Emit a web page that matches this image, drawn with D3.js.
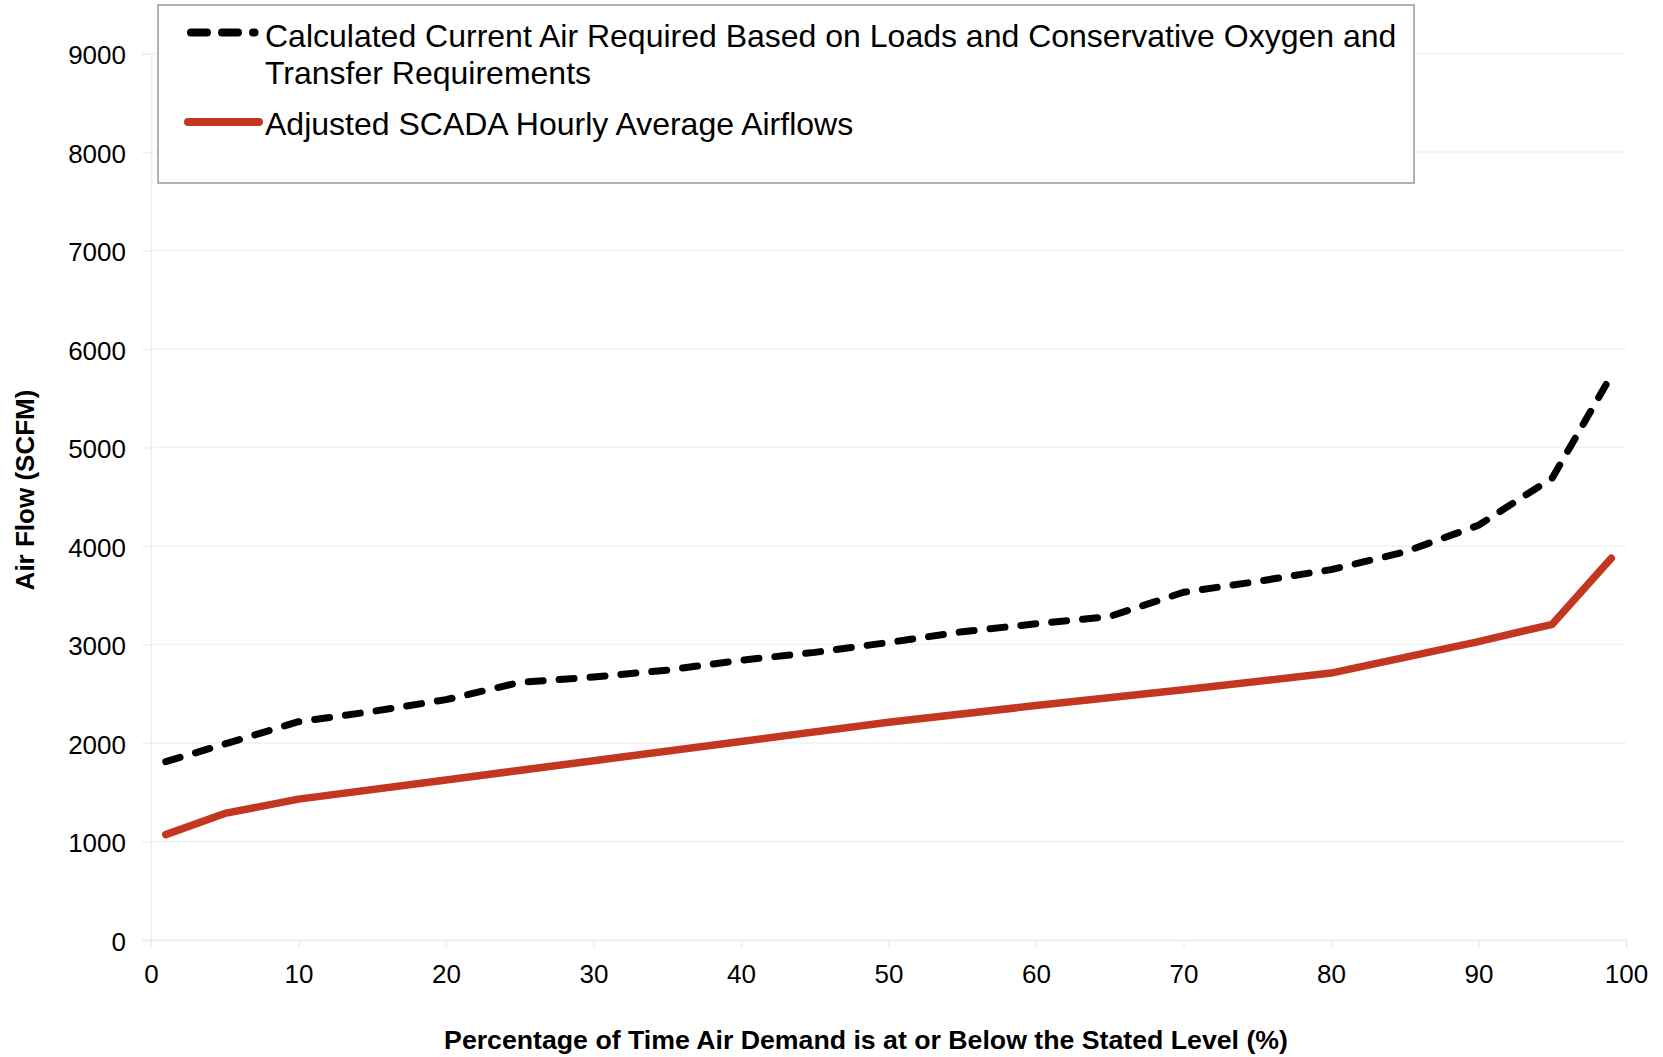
<!DOCTYPE html>
<html>
<head>
<meta charset="utf-8">
<script src="https://cdn.jsdelivr.net/npm/d3@7"></script>
<style>
  html, body { margin: 0; padding: 0; background: #fff; }
  svg { display: block; font-family: "Liberation Sans", Arial, sans-serif; }
</style>
</head>
<body>
<svg id="chart" width="1663" height="1057"></svg>
<script>
// ---- data ----
const calcPct = [1, 5, 10, 15, 20, 25, 30, 35, 40, 45, 50, 55, 60, 65, 70, 75, 80, 85, 90, 95, 99];
const calcAir = [1810, 1990, 2216, 2320, 2440, 2615, 2670, 2740, 2840, 2920, 3020, 3130, 3210, 3285, 3530, 3640, 3760, 3940, 4210, 4690, 5730];
const scadaPct = [1, 5, 10, 20, 30, 40, 50, 60, 70, 80, 90, 95, 99];
const scadaAir = [1070, 1285, 1430, 1625, 1820, 2015, 2210, 2380, 2540, 2710, 3030, 3205, 3875];
const xTicks = [0, 10, 20, 30, 40, 50, 60, 70, 80, 90, 100];
const yTicks = [0, 1000, 2000, 3000, 4000, 5000, 6000, 7000, 8000, 9000];
const seriesNames = [
  ["Calculated Current Air Required Based on Loads and Conservative Oxygen and", "Transfer Requirements"],
  ["Adjusted SCADA Hourly Average Airflows"]
];
const xTitle = "Percentage of Time Air Demand is at or Below the Stated Level (%)";
const yTitle = "Air Flow (SCFM)";

// ---- layout ----
const svg = d3.select("#chart");
const x = d3.scaleLinear().domain([0, 100]).range([151, 1626]);
const y = d3.scaleLinear().domain([0, 9000]).range([940, 53.5]);
const RED = "#c3361f";

// gridlines
svg.append("g").selectAll("line").data(yTicks).join("line")
  .attr("x1", x(0)).attr("x2", x(100))
  .attr("y1", d => y(d)).attr("y2", d => y(d))
  .attr("stroke", "#f1f1f1").attr("stroke-width", 1.5);

// axes
const yAxis = svg.append("g").attr("transform", `translate(${x(0)},0)`)
  .call(d3.axisLeft(y).tickValues(yTicks).tickSize(9).tickPadding(16).tickFormat(d3.format("d")));
const xAxis = svg.append("g").attr("transform", `translate(0,${y(0)})`)
  .call(d3.axisBottom(x).tickValues(xTicks).tickSize(8).tickPadding(17).tickFormat(d3.format("d")));
[yAxis, xAxis].forEach(a => {
  a.select(".domain").attr("stroke", "#eeeeee").attr("stroke-width", 1.5);
  a.selectAll(".tick line").attr("stroke", "#eeeeee").attr("stroke-width", 1.5);
  a.selectAll(".tick text").attr("fill", "#000").style("font-size", "26px")
    .style("font-family", "'Liberation Sans', Arial, sans-serif");
});
yAxis.selectAll(".tick text").attr("dy", "0.4em");

// lines
const line = d3.line().x(d => x(d[0])).y(d => y(d[1]));
svg.append("path")
  .datum(scadaPct.map((p, i) => [p, scadaAir[i]]))
  .attr("d", line).attr("fill", "none").attr("stroke", RED)
  .attr("stroke-width", 7.5).attr("stroke-linejoin", "round").attr("stroke-linecap", "round");
svg.append("path")
  .datum(calcPct.map((p, i) => [p, calcAir[i]]))
  .attr("d", line).attr("fill", "none").attr("stroke", "#000")
  .attr("stroke-width", 7).attr("stroke-dasharray", "15,16")
  .attr("stroke-linejoin", "round").attr("stroke-linecap", "round");

// axis titles
svg.append("text").attr("x", 866).attr("y", 1049).attr("text-anchor", "middle")
  .style("font-size", "26.7px").style("font-weight", "bold").text(xTitle);
svg.append("text").attr("transform", "translate(34,490) rotate(-90)").attr("text-anchor", "middle")
  .style("font-size", "26px").style("font-weight", "bold").text(yTitle);

// legend
const lg = svg.append("g");
lg.append("rect").attr("x", 158).attr("y", 5).attr("width", 1256).attr("height", 178)
  .attr("fill", "#fff").attr("stroke", "#999").attr("stroke-width", 1.5);
lg.append("line").attr("x1", 191).attr("x2", 254.5).attr("y1", 32.5).attr("y2", 32.5)
  .attr("stroke", "#000").attr("stroke-width", 8).attr("stroke-dasharray", "16,15")
  .attr("stroke-linecap", "round");
lg.append("line").attr("x1", 188).attr("x2", 259).attr("y1", 122).attr("y2", 122)
  .attr("stroke", RED).attr("stroke-width", 8).attr("stroke-linecap", "round");
const baselines = [[46.7, 84.3], [135]];
seriesNames.forEach((lines, i) => {
  lines.forEach((t, j) => {
    lg.append("text").attr("x", 265).attr("y", baselines[i][j])
      .style("font-size", "32px").attr("fill", "#000").text(t);
  });
});
</script>
</body>
</html>
